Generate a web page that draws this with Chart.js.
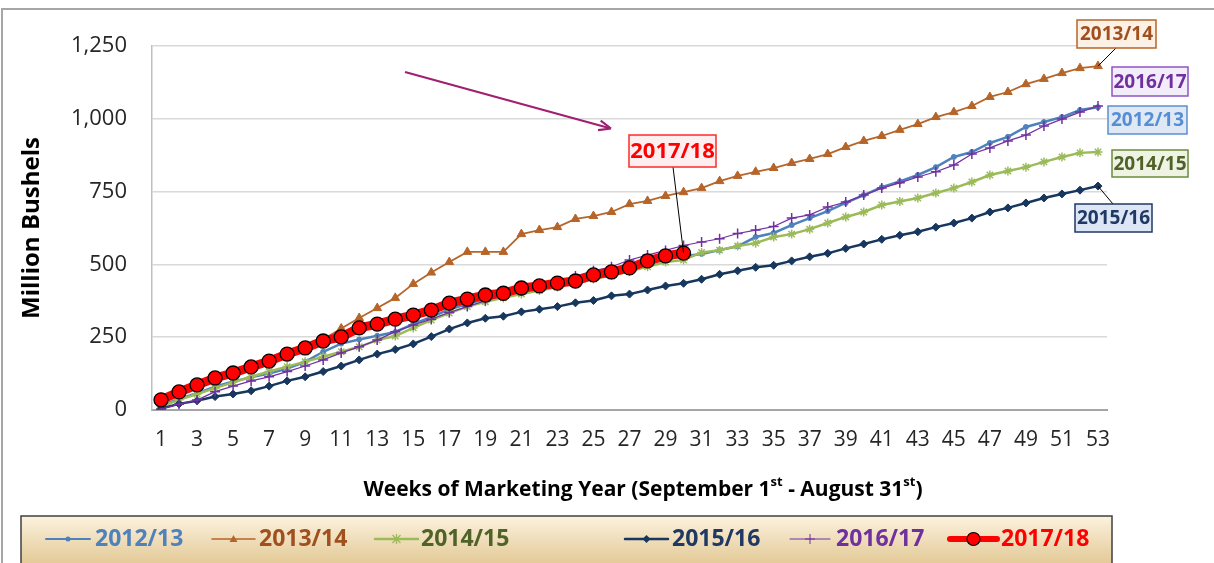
<!DOCTYPE html>
<html><head><meta charset="utf-8">
<script src="https://cdn.jsdelivr.net/npm/chart.js@4.4.1/dist/chart.umd.min.js"></script>
<style>html,body{margin:0;padding:0;background:#fff;}canvas{display:block;}</style>
</head><body>
<canvas id="c" width="1214" height="563"></canvas>
<script>
const weeks = [1,2,3,4,5,6,7,8,9,10,11,12,13,14,15,16,17,18,19,20,21,22,23,24,25,26,27,28,29,30,31,32,33,34,35,36,37,38,39,40,41,42,43,44,45,46,47,48,49,50,51,52,53];
const seriesNames = ['2012/13','2013/14','2014/15','2015/16','2016/17','2017/18'];
const y2012 = [15,38,58,80,98,112,125,142,165,200,228,242,255,268,295,320,345,365,380,392,405,418,430,445,460,475,490,505,518,528,536,549,562,594,608,635,659,683,711,738,765,785,807,834,869,886,917,938,972,989,1006,1030,1040];
const y2013 = [30,55,80,102,122,142,162,185,210,242,280,316,350,385,433,472,508,543,543,543,604,618,628,656,666,680,707,718,735,748,762,786,804,818,831,848,862,879,903,924,941,962,982,1006,1023,1044,1075,1092,1119,1137,1157,1174,1181];
const y2014 = [12,35,55,75,95,114,132,149,166,183,200,217,240,254,282,309,333,355,372,385,398,410,422,436,450,462,476,492,508,515,541,549,563,573,594,604,621,642,663,680,704,716,728,745,762,783,807,821,834,852,869,883,886];
const y2015 = [5,21,32,46,55,66,82,100,114,132,151,172,192,208,227,252,278,299,315,322,337,346,355,368,376,392,398,412,426,435,449,466,478,490,497,512,526,538,555,570,586,600,612,628,642,659,680,694,711,728,742,755,769];
const y2016 = [3,20,34,63,82,100,114,132,151,172,196,217,240,269,292,312,335,355,375,393,410,425,440,460,478,492,515,532,548,565,577,588,606,618,630,659,670,697,714,738,762,780,800,818,841,879,900,924,944,975,999,1023,1044];
const y2017 = [35,62,86,110,127,148,168,192,213,237,251,282,295,312,326,343,367,381,395,401,419,426,436,443,464,474,488,512,529,539];
const yTicks = [0,250,500,750,1000,1250];
const xTitle = ['Weeks of Marketing Year (September 1', 'st', ' - August 31', 'st', ')'];
const yTitle = 'Million Bushels';

const FONT = "'Open Sans', 'Liberation Sans', sans-serif";
const C = {
  b12:'#4f81bd', b13:'#b5652a', b14:'#9bbb59', b15:'#17375e', b16:'#7030a0', b17:'#ff0000'
};

function ds(label, data, color, opts) {
  return Object.assign({label, data, borderColor: color, backgroundColor: color, pointBackgroundColor: color,
    pointBorderColor: color, tension: 0, fill: false}, opts);
}

const datasets = [
  ds(seriesNames[5], y2017, C.b17, {borderWidth: 9, pointStyle:'circle', pointRadius: 7, pointBorderColor:'#000', pointBorderWidth:1.3, order:0}),
  ds(seriesNames[4], y2016, C.b16, {borderWidth: 1.2, pointStyle:'cross', pointRadius: 5, pointBorderWidth:1.5, order:1}),
  ds(seriesNames[3], y2015, C.b15, {borderWidth: 2.5, pointStyle:'rectRot', pointRadius: 4, pointBorderWidth:1, order:2}),
  ds(seriesNames[2], y2014, C.b14, {borderWidth: 2.5, pointStyle:'star', pointRadius: 4.5, pointBorderWidth:1.5, order:3}),
  ds(seriesNames[0], y2012, C.b12, {borderWidth: 2.5, pointStyle:'circle', pointRadius: 2.5, pointBorderWidth:1, order:4}),
  ds(seriesNames[1], y2013, C.b13, {borderWidth: 1.8, pointStyle:'triangle', pointRadius: 5, pointBorderWidth:1, order:5}),
];

const legendItems = [
  {name: seriesNames[0], line: C.b12, text:'#4f81bd', x0:46, x1:90, tx:95, mk:'dot', lw:2},
  {name: seriesNames[1], line: C.b13, text:'#a0501e', x0:212, x1:255, tx:259, mk:'tri', lw:1.5},
  {name: seriesNames[2], line: C.b14, text:'#4f6228', x0:375, x1:418, tx:421, mk:'star', lw:2.5},
  {name: seriesNames[3], line: C.b15, text:'#1f3864', x0:625, x1:668, tx:672, mk:'dia', lw:2.5},
  {name: seriesNames[4], line: C.b16, text:'#7030a0', x0:790, x1:830, tx:836, mk:'cross', lw:1},
  {name: seriesNames[5], line: C.b17, text:'#ff0000', x0:950, x1:997, tx:1001, mk:'big', lw:6},
];

const boxes = [
  {name:'2013/14', x:1077, y:20, w:79, h:28, fill:'#fdf0e4', stroke:'#b5652a', color:'#a0501e', size:19},
  {name:'2016/17', x:1112, y:67, w:76, h:29, fill:'#f3ecfa', stroke:'#8e55c4', color:'#7030a0', size:19},
  {name:'2012/13', x:1108, y:106, w:79, h:28, fill:'#dfe8f5', stroke:'#5b8fd0', color:'#558ed5', size:19},
  {name:'2014/15', x:1112, y:150, w:76, h:27, fill:'#eff3e4', stroke:'#6b8c3a', color:'#4f6228', size:19},
  {name:'2015/16', x:1075, y:204, w:77, h:28, fill:'#dce6f5', stroke:'#1f3864', color:'#1f3864', size:19},
  {name:'2017/18', x:629, y:135, w:87, h:32, fill:'#ffeef0', stroke:'#ff2a2a', color:'#ff0000', size:22},
];

function marker(ctx, type, x, y, color) {
  ctx.save();
  ctx.fillStyle = color; ctx.strokeStyle = color;
  if (type === 'dot') { ctx.beginPath(); ctx.arc(x, y, 2.5, 0, Math.PI*2); ctx.fill(); }
  else if (type === 'tri') { ctx.beginPath(); ctx.moveTo(x, y-4); ctx.lineTo(x+4, y+3); ctx.lineTo(x-4, y+3); ctx.closePath(); ctx.fill(); }
  else if (type === 'star') { ctx.lineWidth = 1.3; ctx.beginPath();
    ctx.moveTo(x-4,y-4); ctx.lineTo(x+4,y+4); ctx.moveTo(x+4,y-4); ctx.lineTo(x-4,y+4); ctx.moveTo(x,y-5); ctx.lineTo(x,y+5); ctx.stroke(); }
  else if (type === 'dia') { ctx.beginPath(); ctx.moveTo(x, y-4); ctx.lineTo(x+4, y); ctx.lineTo(x, y+4); ctx.lineTo(x-4, y); ctx.closePath(); ctx.fill(); }
  else if (type === 'cross') { ctx.lineWidth = 1; ctx.beginPath(); ctx.moveTo(x-5,y); ctx.lineTo(x+5,y); ctx.moveTo(x,y-5); ctx.lineTo(x,y+5); ctx.stroke(); }
  else if (type === 'big') { ctx.beginPath(); ctx.arc(x, y, 6.5, 0, Math.PI*2); ctx.fillStyle = '#ff0000'; ctx.fill(); ctx.lineWidth = 1.2; ctx.strokeStyle = '#000'; ctx.stroke(); }
  ctx.restore();
}

const deco = {
  id: 'deco',
  beforeDraw(chart) {
    const ctx = chart.ctx;
    ctx.save();
    ctx.fillStyle = '#fff'; ctx.fillRect(0, 0, chart.width, chart.height);
    ctx.strokeStyle = '#a6a6a6'; ctx.lineWidth = 2;
    ctx.beginPath(); ctx.moveTo(2, 600); ctx.lineTo(2, 9); ctx.lineTo(1220, 9); ctx.stroke();
    ctx.restore();
  },
  afterDraw(chart) {
    const ctx = chart.ctx;
    const xs = chart.scales.x, ys = chart.scales.y;
    ctx.save();
    // x-axis title with superscripts
    const big = 'bold 21px ' + FONT, small = 'bold 13px ' + FONT;
    let total = 0;
    xTitle.forEach((t, i) => { ctx.font = i % 2 ? small : big; total += ctx.measureText(t).width; });
    let tx = 643 - total / 2;
    ctx.fillStyle = '#000'; ctx.textBaseline = 'middle'; ctx.textAlign = 'left';
    xTitle.forEach((t, i) => {
      ctx.font = i % 2 ? small : big;
      ctx.fillText(t, tx, i % 2 ? 482 : 490);
      tx += ctx.measureText(t).width;
    });

    // arrow
    ctx.strokeStyle = '#a01f70'; ctx.fillStyle = '#a01f70'; ctx.lineWidth = 2.2;
    const ax0 = 405, ay0 = 72, ax1 = 609, ay1 = 128;
    ctx.beginPath(); ctx.moveTo(ax0, ay0); ctx.lineTo(ax1, ay1); ctx.stroke();
    const ang = Math.atan2(ay1 - ay0, ax1 - ax0);
    ctx.beginPath();
    ctx.moveTo(ax1 + 2, ay1 + 0.5);
    ctx.lineTo(ax1 - 10*Math.cos(ang) + 5*Math.sin(ang), ay1 - 10*Math.sin(ang) - 5*Math.cos(ang));
    ctx.moveTo(ax1 + 2, ay1 + 0.5);
    ctx.lineTo(ax1 - 10*Math.cos(ang) - 5*Math.sin(ang), ay1 - 10*Math.sin(ang) + 5*Math.cos(ang));
    ctx.stroke();

    // leader lines
    ctx.strokeStyle = '#000'; ctx.lineWidth = 1;
    const lead = (x0, y0, x1, y1) => { ctx.beginPath(); ctx.moveTo(x0, y0); ctx.lineTo(x1, y1); ctx.stroke(); };
    lead(1116, 48, xs.getPixelForValue(52), ys.getPixelForValue(y2013[52]));
    lead(xs.getPixelForValue(52), ys.getPixelForValue(y2015[52]), 1113, 204);
    lead(673, 167, xs.getPixelForValue(29), ys.getPixelForValue(y2017[29]));

    // label boxes
    boxes.forEach(b => {
      ctx.fillStyle = b.fill; ctx.fillRect(b.x, b.y, b.w, b.h);
      ctx.strokeStyle = b.stroke; ctx.lineWidth = 1.5; ctx.strokeRect(b.x, b.y, b.w, b.h);
      ctx.fillStyle = b.color; ctx.font = 'bold ' + b.size + 'px ' + FONT;
      ctx.textAlign = 'center'; ctx.textBaseline = 'middle';
      ctx.fillText(b.name, b.x + b.w/2, b.y + b.h/2 + 1);
    });

    // legend
    const g = ctx.createLinearGradient(0, 516, 0, 563);
    g.addColorStop(0, '#fcf2de'); g.addColorStop(1, '#e3ca98');
    ctx.fillStyle = g; ctx.fillRect(21, 516, 1091, 60);
    ctx.strokeStyle = '#404040'; ctx.lineWidth = 1.5; ctx.strokeRect(21, 516, 1091, 60);
    legendItems.forEach(it => {
      const ly = 539;
      ctx.strokeStyle = it.line; ctx.lineWidth = it.lw; ctx.lineCap = 'round';
      ctx.beginPath(); ctx.moveTo(it.x0, ly); ctx.lineTo(it.x1, ly); ctx.stroke();
      ctx.lineCap = 'butt';
      marker(ctx, it.mk, (it.x0 + it.x1)/2, ly, it.line);
      ctx.fillStyle = it.text; ctx.font = 'bold 23px ' + FONT;
      ctx.textAlign = 'left'; ctx.textBaseline = 'middle';
      ctx.fillText(it.name, it.tx, ly);
    });
    ctx.restore();
  }
};

new Chart(document.getElementById('c'), {
  type: 'line',
  data: { labels: weeks, datasets },
  options: {
    responsive: false, animation: false,
    layout: { padding: { left: 0, top: 46, right: 107, bottom: 0 } },
    plugins: { legend: { display: false }, tooltip: { enabled: false } },
    scales: {
      x: {
        type: 'category', offset: true,
        grid: { display: false, drawTicks: false },
        border: { display: true, color: '#a6a6a6', width: 2 },
        ticks: { autoSkip: false, maxRotation: 0, padding: 17, color: '#262626',
          font: { family: FONT, size: 21 },
          callback: function(v, i) { return i % 2 === 0 ? String(weeks[i]) : ''; } },
        afterFit: s => { s.height = 153; }
      },
      y: {
        min: 0, max: 1250,
        afterBuildTicks: s => { s.ticks = yTicks.map(v => ({ value: v })); },
        grid: { color: '#d9d9d9', lineWidth: 1.5, drawTicks: false },
        border: { display: true, color: '#bfbfbf', width: 1.5 },
        ticks: { padding: 25, color: '#262626', font: { family: FONT, size: 22 },
          callback: v => v.toLocaleString('en-US') },
        title: { display: true, text: yTitle, color: '#000', font: { family: FONT, size: 24, weight: 'bold' }, padding: { top: 18, bottom: 0 } },
        afterFit: s => { s.width = 152; }
      }
    }
  },
  plugins: [deco]
});
</script>
</body></html>
